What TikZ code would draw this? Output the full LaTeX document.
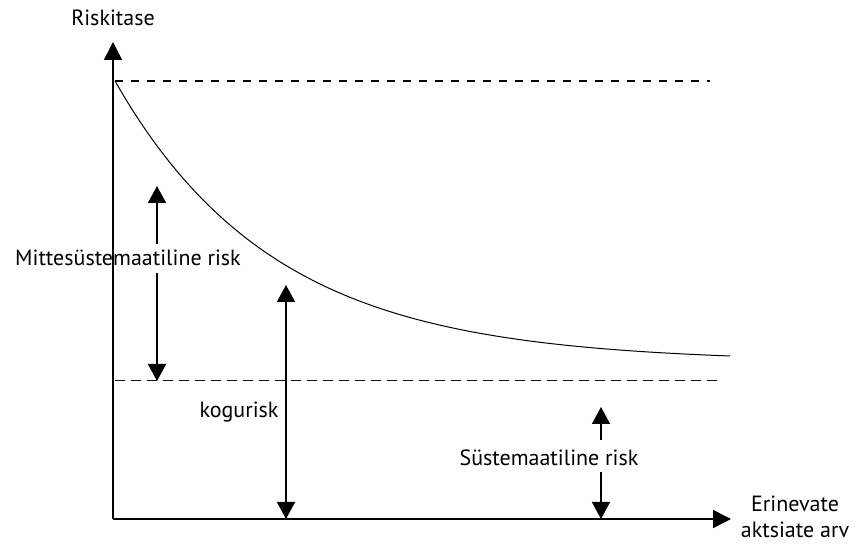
\documentclass[tikz,border=0pt]{standalone}
\usepackage{fontspec}
\setmainfont{PT Sans}
\usetikzlibrary{arrows.meta}
\usetikzlibrary{positioning}

\tikzset{
  axis/.style={line width=0.75pt,-{Triangle[width=9pt,length=9pt]}},
  tip/.style={line width=0.75pt,-{Triangle[width=9pt,length=8.5pt]}},
  both/.style={line width=0.75pt,{Triangle[width=9pt,length=8.5pt]}-{Triangle[width=9pt,length=8.5pt]}},
  level/.style={line width=1.1pt,dash pattern=on 4pt off 4pt},
  floor/.style={line width=0.5pt,dash pattern=on 5pt off 3pt},
  lbl/.style={font=\fontsize{11}{13}\selectfont,inner sep=1pt}
}

\begin{document}
\begin{tikzpicture}[x=0.5pt,y=-0.5pt]
\useasboundingbox (0,0) rectangle (858,545);

% axes
\coordinate (O) at (113,519);
\coordinate (ytop) at (113,42);
\coordinate (xend) at (731,519);
\draw[axis] (O) -- (ytop);
\draw[axis] (O) -- (xend);

\node[lbl] (riskitase) at (113,18) {Riskitase};
\node[lbl, align=center] (arv) at (795,517) {Erinevate\\aktsiate arv};

% risk levels
\coordinate (top0) at (115,81);
\coordinate (top1) at (710,81);
\coordinate (sys0) at (115,381);
\coordinate (sys1) at (722,381);
\draw[level] (top0) -- (top1);
\draw[floor] (sys0) -- (sys1);

% total risk curve
\draw[line width=0.5pt] plot[domain=115:730, samples=80, smooth] (\x,{362-281*exp(-(\x-115)/160)});

% unsystematic risk
\node[lbl] (mitte) at (128,258) {Mittesüstemaatiline risk};
\coordinate (m0) at (157,244);
\coordinate (m1) at (157,186);
\coordinate (m2) at (157,273);
\coordinate (m3) at (157,381);
\draw[tip] (m0) -- (m1);
\draw[tip] (m2) -- (m3);

% total risk
\node[lbl] (kogu) at (239,412) {kogurisk};
\coordinate (k0) at (286,519);
\coordinate (k1) at (286,285);
\draw[both] (k0) -- (k1);

% systematic risk
\node[lbl] (sys) at (549,458) {Süstemaatiline risk};
\coordinate (s0) at (601,440);
\coordinate (s1) at (601,407);
\coordinate (s2) at (601,472);
\coordinate (s3) at (601,519);
\draw[tip] (s0) -- (s1);
\draw[tip] (s2) -- (s3);

\end{tikzpicture}
\end{document}
